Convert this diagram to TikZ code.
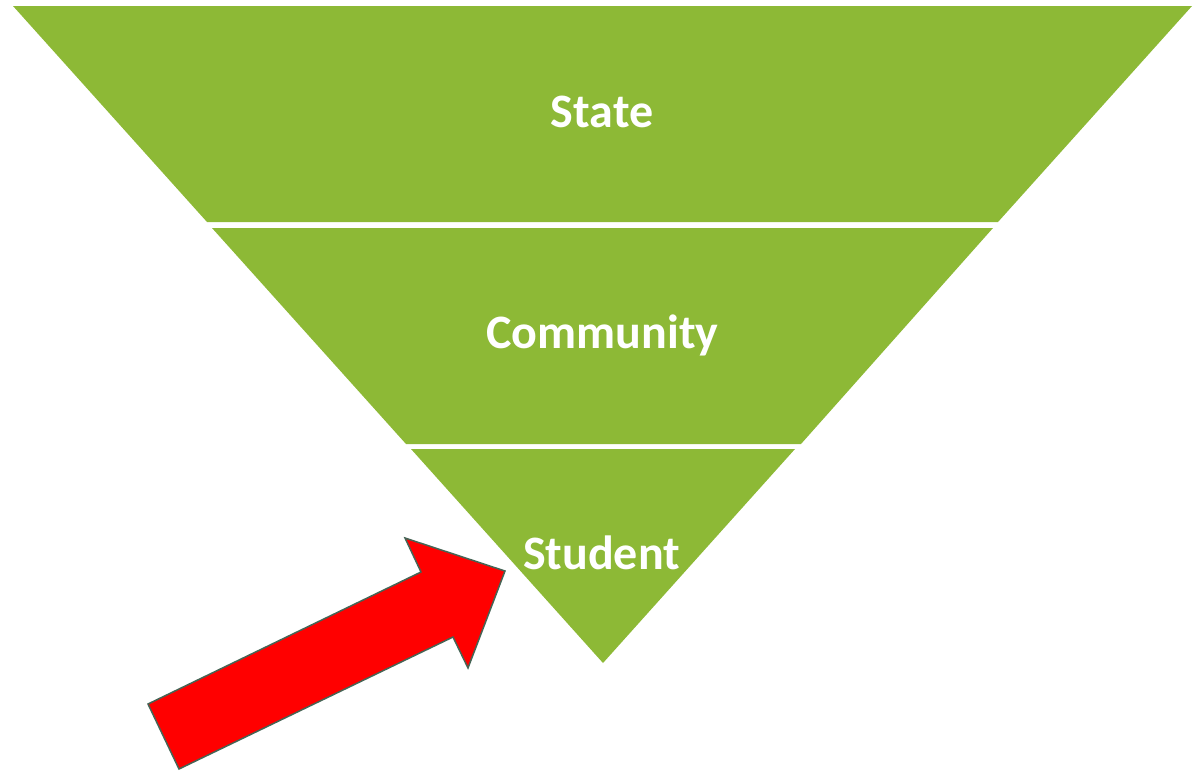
\documentclass[tikz,border=0pt]{standalone}
\usepackage{fontspec}
\setmainfont{Carlito}
\definecolor{bandgreen}{RGB}{141,185,54}
\definecolor{arrowred}{RGB}{255,0,0}
\definecolor{arrowline}{RGB}{70,100,85}
\begin{document}
\begin{tikzpicture}[x=1pt,y=-1pt,
  band/.style={fill=bandgreen,draw=none},
  label/.style={font=\fontsize{48}{56}\selectfont\bfseries,text=white,anchor=base,inner sep=0pt},
  bigarrow/.style={fill=arrowred,draw=arrowline,line width=1.5pt,line join=miter}]
\useasboundingbox (0,0) rectangle (1202,772);
% bands of the inverted triangle
\fill[band] (13,6) -- (1192,6) -- (998,222) -- (207,222) -- cycle;
\fill[band] (212,228) -- (993,228) -- (801,444) -- (406,444) -- cycle;
\fill[band] (411,449) -- (795,449) -- (603,663) -- cycle;
% labels
\node[label] (state) at (602,127.5) {State};
\node[label] (community) at (602.5,348.5) {Community};
\node[label] (student) at (601.5,569.5) {Student};
% red block arrow
\draw[bigarrow] (148,704) -- (421,572) -- (405,538) -- (505,571) -- (468,668) -- (453,637) -- (179,769) -- cycle;
\end{tikzpicture}
\end{document}
